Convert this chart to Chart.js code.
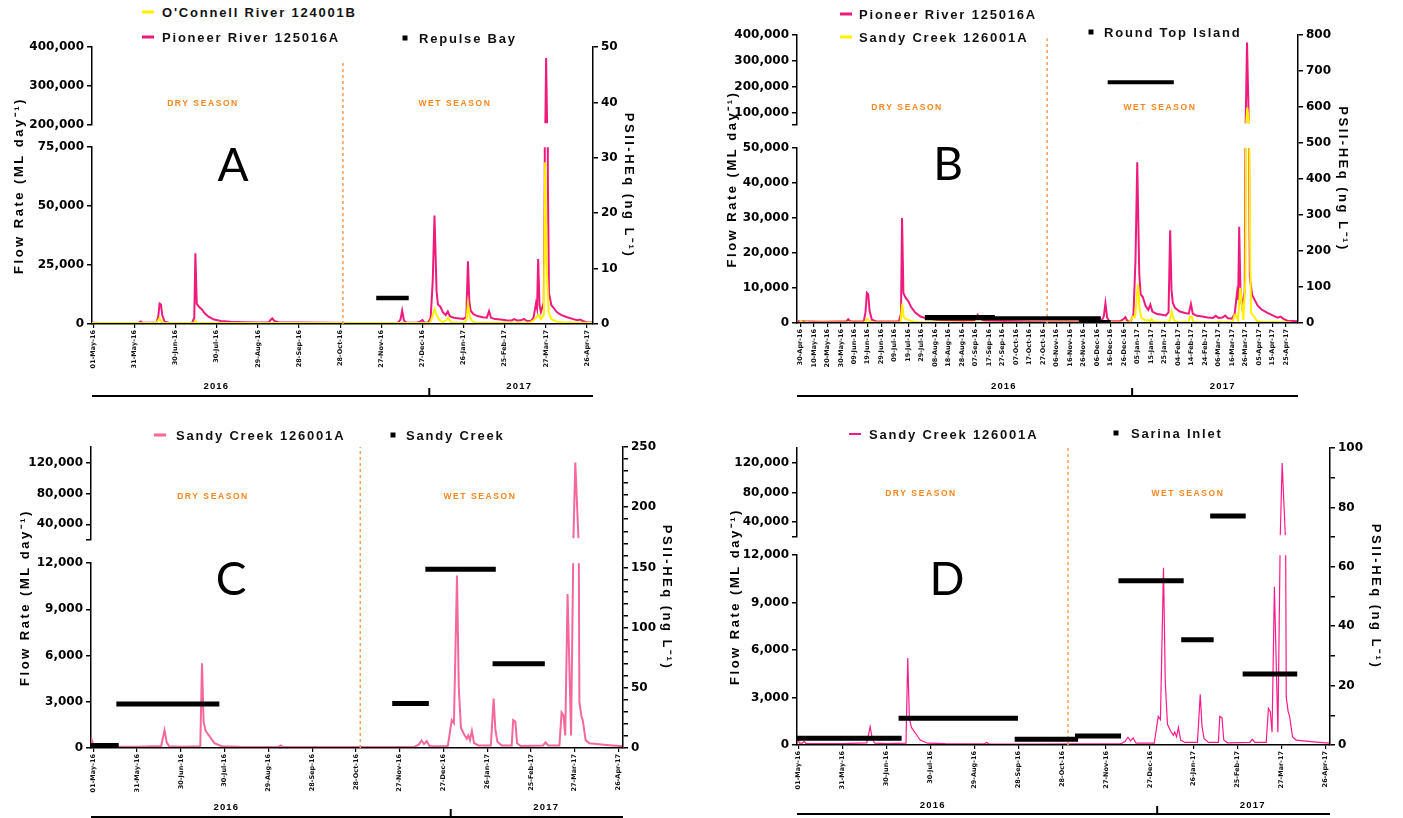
<!DOCTYPE html>
<html><head><meta charset="utf-8">
<script src="https://cdn.jsdelivr.net/npm/chart.js@4/dist/chart.umd.min.js"></script>
<style>
html,body{margin:0;padding:0;background:#fff;width:1403px;height:818px;overflow:hidden;font-family:"Liberation Sans",Arial,sans-serif}
canvas{position:absolute}
.leg{position:absolute;white-space:nowrap;font-weight:bold;font-size:13px;letter-spacing:1.8px;color:#111;transform:translateY(-50%);line-height:1}
.sw{position:absolute;width:12px;height:3px;transform:translateY(-50%)}
.sq{position:absolute;width:5px;height:5px;background:#000;transform:translate(-50%,-50%)}
.season{position:absolute;white-space:nowrap;color:#F7861F;font-weight:bold;font-size:8.5px;letter-spacing:1.6px;transform:translate(-50%,-50%);line-height:1}
.letter{position:absolute;font-family:Lato,"Open Sans",sans-serif;font-size:46px;color:#000;transform:translate(-50%,-50%);line-height:1}
</style></head><body>
<script>
// ---------- DATA (days counted from 01-May-2016) ----------
const monthTickLabels = ['01-May-16','31-May-16','30-Jun-16','30-Jul-16','29-Aug-16','28-Sep-16','28-Oct-16','27-Nov-16','27-Dec-16','26-Jan-17','25-Feb-17','27-Mar-17','26-Apr-17'];
const tenDayTickLabels = ['30-Apr-16','10-May-16','20-May-16','30-May-16','09-Jun-16','19-Jun-16','29-Jun-16','09-Jul-16','19-Jul-16','29-Jul-16','08-Aug-16','18-Aug-16','28-Aug-16','07-Sep-16','17-Sep-16','27-Sep-16','07-Oct-16','17-Oct-16','27-Oct-16','06-Nov-16','16-Nov-16','26-Nov-16','06-Dec-16','16-Dec-16','26-Dec-16','05-Jan-17','15-Jan-17','25-Jan-17','04-Feb-17','14-Feb-17','24-Feb-17','06-Mar-17','16-Mar-17','26-Mar-17','05-Apr-17','15-Apr-17','25-Apr-17'];
const yearLabels = ['2016','2017'];
const seasonLabels = ['DRY SEASON','WET SEASON'];

// Pioneer River 125016A (ML/day)
const pioneerDays = [-3,5,15,25,33,34.5,36,46,47.3,48.3,49.3,50.3,52,55,65,72,73.6,74.4,75.4,77,79,81,84,88,93,100,110,120,128,129.5,130.5,132,135,150,170,190,210,222,224,225.2,226.5,228,236,238.5,240,241.5,244,246,247.5,248.8,250.3,251.3,253,255,257,258.5,260,263,267,270,272,273.2,274.2,275.2,277,280,284,287,288.6,290,293,297,301,305,307,309,312,314,316,319,321,322.8,323.6,324.4,325.4,326.4,328.5,329.2,330.2,331.5,332.3,334,336,338,341,345,350,353,355,357,360,368];
const pioneerFlow = [450,350,300,350,400,1000,400,450,3000,8600,8200,3500,900,450,350,450,2500,30000,8500,7200,6200,4600,3000,1800,1200,900,700,600,700,1800,2300,1200,650,500,400,350,350,400,1800,5600,1500,450,450,1000,1600,500,400,2500,18000,46000,14000,8200,7300,4800,3700,5200,3200,2600,2300,2100,3000,26500,9500,5600,4200,3300,2800,2600,5400,2600,2000,1800,1500,1400,2000,1400,1500,2100,1300,1200,2500,8600,6500,27500,8000,5000,9000,60000,372000,60000,13000,8000,6500,5000,3800,2900,2000,1500,1800,1200,600,450];

// O'Connell River 124001B (ML/day)
const oconnellDays = [-1,45,47,48.3,49.5,52,73.5,74.4,75.5,78,245,247,248.8,250.5,252.5,255,257.5,258.8,260.5,263,271,272.2,273.2,274.5,276.5,280,318,321,322.8,324.5,326.5,328.6,329.5,330.6,332,334,338,345,355,364];
const oconnellFlow = [300,300,1200,2400,900,300,300,1300,500,300,300,2500,6300,3500,1500,700,1500,2500,900,400,400,2000,8500,3000,1000,400,400,1500,2500,3800,2000,4000,68600,25000,5000,2000,900,500,400,300];

// Sandy Creek 126001A (ML/day)
const sandyDays = [-1.6,0.5,2.5,3.8,5,15,30,46.5,48.8,50.3,52,60,73.3,74.5,75.6,77,80,83,88,100,127,128.5,130,160,190,220,223,225,226.7,228.6,230.5,243,245.7,247.2,249.3,250.5,252,254,256,257,258.2,259.5,261,264,272.5,274.4,275.6,277,280,286.8,287.8,289.3,290.5,293,308.3,310,311.7,319.5,321,322.3,323.5,325.1,327.5,329,330.4,332.7,333.2,334.5,335.5,337.5,340,345,350,356,363];
const sandyFlow = [650,100,100,220,80,70,70,120,1150,350,100,70,100,5500,1700,1100,700,300,100,70,60,150,60,50,60,60,200,480,250,430,100,100,1800,1600,11200,4000,1300,900,600,800,500,1100,300,150,150,3200,1200,400,150,150,1800,1700,300,120,150,350,150,150,2300,2100,800,10000,800,12500,120000,15000,3000,2100,1800,500,300,250,200,150,100];

// PSII-HEq passive sampler deployments (ng/L): start day, end day, value
const repulseStart = [206.3];
const repulseEnd   = [230];
const repulseHEq   = [4.7];
const roundTopStart = [91.3, 91.3, 205.5, 226.9];
const roundTopEnd   = [143.2, 221.8, 229.2, 275.9];
const roundTopHEq   = [17, 13, 3, 669];
const sandyCkStart = [-1.6, 15.8, 204.9, 227.6, 273.7];
const sandyCkEnd   = [17.4, 86.4, 230, 275.9, 309.5];
const sandyCkHEq   = [2, 36.5, 37, 148.5, 70];
const sarinaStart = [-1.2, 68.2, 147.6, 188.8, 218.5, 261.4, 281.2, 303.4];
const sarinaEnd   = [70.3, 149.8, 190.9, 220.3, 263.1, 283.6, 305.5, 340.7];
const sarinaHEq   = [2.3, 9.0, 1.9, 3.0, 55.3, 35.4, 77.1, 23.9];

// Left-axis tick values and labels (broken axes)
const A_upperTicks = [200000,300000,400000];
const A_upperTickLabels = ['200,000','300,000','400,000'];
const A_lowerTicks = [0,25000,50000,75000];
const A_lowerTickLabels = ['0','25,000','50,000','75,000'];
const B_upperTicks = [53000,100000,200000,300000,400000];
const B_upperTickLabels = ['','100,000','200,000','300,000','400,000'];
const B_lowerTicks = [0,10000,20000,30000,40000,50000];
const B_lowerTickLabels = ['0','10,000','20,000','30,000','40,000','50,000'];
const CD_upperTicks = [20000,40000,80000,120000];
const CD_upperTickLabels = ['','40,000','80,000','120,000'];
const CD_lowerTicks = [0,3000,6000,9000,12000];
const CD_lowerTickLabels = ['0','3,000','6,000','9,000','12,000'];

// season boundary (dotted line) day and year boundary (01-Jan-2017)
const dryWetDay = {A:182, B:182, C:183, D:184};
const yearBoundaryDay = 245;
</script>
<script>
const MONTHS={Jan:0,Feb:1,Mar:2,Apr:3,May:4,Jun:5,Jul:6,Aug:7,Sep:8,Oct:9,Nov:10,Dec:11};
const DAY0=Date.UTC(2016,4,1);
function labelToDay(s){const p=s.split('-');return (Date.UTC(2000+ +p[2],MONTHS[p[1]],+p[0])-DAY0)/86400000;}
function pts(d,v){const n=Math.min(d.length,v.length),a=[];for(let i=0;i<n;i++)a.push({x:d[i],y:v[i]});return a;}
function barPts(s,e,v){const a=[];for(let i=0;i<v.length;i++){a.push({x:s[i],y:v[i]},{x:e[i],y:v[i]},{x:e[i],y:null});}return a;}

const PINK='#EE1B7C', YELLOW='#FFF200';
const flowPioneer={label:'Pioneer River 125016A',d:pioneerDays,v:pioneerFlow};
const flowOConnell={label:"O'Connell River 124001B",d:oconnellDays,v:oconnellFlow};
const flowSandy={label:'Sandy Creek 126001A',d:sandyDays,v:sandyFlow};

const panels=[
 {id:'A',PL:0,L:92,R:593,top:47,bottom:324,xmin:-1,xmax:364.4,up:[47,125,200000,400000,A_upperTicks,A_upperTickLabels],lo:[147,324,0,75000,A_lowerTicks,A_lowerTickLabels],
  flows:[[flowOConnell,YELLOW,2],[flowPioneer,PINK,2]],bars:{label:'Repulse Bay',s:repulseStart,e:repulseEnd,v:repulseHEq,w:4.5},
  rmax:50,rstep:10,rlab:10,dotTop:47.3,ticks:monthTickLabels,titleLx:19,titleRx:629,yearLine:72,yearLabel:62,yearDays:[89.7,310.6],
  legend:[['sw',YELLOW,142,12,"O'Connell River 124001B",162],['sw',PINK,142,37,'Pioneer River 125016A',162],['sq','#000',405,38,'Repulse Bay',419]],
  seasons:[[203,103],[455,103]],letter:[233,164]},
 {id:'B',PL:700,L:797,R:1298,top:35,bottom:323,xmin:-3.5,xmax:368,up:[35,125,53000,400000,B_upperTicks,B_upperTickLabels],lo:[148,323,0,50000,B_lowerTicks,B_lowerTickLabels],
  flows:[[flowSandy,YELLOW,2],[flowPioneer,PINK,2]],bars:{label:'Round Top Island',s:roundTopStart,e:roundTopEnd,v:roundTopHEq,w:4},
  rmax:800,rstep:100,rlab:100,dotTop:791,ticks:tenDayTickLabels,titleLx:732,titleRx:1343,yearLine:73,yearLabel:63,yearDays:[149.9,312.2],
  legend:[['sw',PINK,840,14,'Pioneer River 125016A',859],['sw',YELLOW,840,37,'Sandy Creek 126001A',859],['sq','#000',1091,32,'Round Top Island',1104]],
  seasons:[[907,107],[1160,107]],letter:[948,163]},
 {id:'C',PL:0,L:91,R:623,top:447,bottom:748,xmin:-1.6,xmax:363.1,up:[447,540,20000,140000,CD_upperTicks,CD_upperTickLabels],lo:[563,748,0,12000,CD_lowerTicks,CD_lowerTickLabels],
  flows:[[flowSandy,'#F4689C',2]],bars:{label:'Sandy Creek',s:sandyCkStart,e:sandyCkEnd,v:sandyCkHEq,w:5},
  rmax:250,rstep:10,rlab:50,dotTop:250,ticks:monthTickLabels,titleLx:25,titleRx:667,yearLine:69,yearLabel:59,yearDays:[91.2,310.5],
  legend:[['sw','#F4689C',154,435,'Sandy Creek 126001A',176],['sq','#000',393,435,'Sandy Creek',406]],
  seasons:[[213,496],[480,496]],letter:[231,578]},
 {id:'D',PL:700,L:797,R:1330,top:448,bottom:745,xmin:-1.2,xmax:363.1,up:[448,537,20000,140000,CD_upperTicks,CD_upperTickLabels],lo:[555,745,0,12000,CD_lowerTicks,CD_lowerTickLabels],
  flows:[[flowSandy,'#FF1A8C',1.2]],bars:{label:'Sarina Inlet',s:sarinaStart,e:sarinaEnd,v:sarinaHEq,w:5},
  rmax:100,rstep:10,rlab:20,dotTop:100,ticks:monthTickLabels,titleLx:735,titleRx:1376,yearLine:69,yearLabel:60,yearDays:[91.6,310.3],
  legend:[['sw','#FF1A8C',849,434,'Sandy Creek 126001A',869],['sq','#000',1116,433,'Sarina Inlet',1131]],
  seasons:[[921,493],[1188,493]],letter:[947,578]}
];

Chart.defaults.color='#000';
const tickFont={family:'"DejaVu Sans", sans-serif',weight:'bold',size:12};
const titleFont={family:'"Liberation Sans", Arial, sans-serif',weight:'bold',size:13};

function mkCanvas(l,t,w,h){const c=document.createElement('canvas');c.width=w;c.height=h;c.style.left=l+'px';c.style.top=t+'px';c.style.width=w+'px';c.style.height=h+'px';document.body.appendChild(c);return c;}

const spacingPlugin={id:'spacing',beforeDraw(chart){Object.values(chart.scales).forEach(s=>{if(s._sp)return;const o=s.drawTitle;s.drawTitle=function(){const c=this.ctx;c.save();try{c.letterSpacing='2.5px';}catch(e){}o.apply(this,arguments);c.restore();};s._sp=true;});}};

function segmentChart(P,seg,isUpper){
  const WL=72,pad=10,[T,B,mn,mx,tk,lb]=seg;
  const c=mkCanvas(P.L-WL,T-pad,(P.R-P.L)+WL,(B-T)+2*pad);
  const clip=isUpper?{left:0,right:0,top:0,bottom:-1.5}:0;
  new Chart(c,{type:'line',
    data:{datasets:P.flows.map(([f,col,w])=>({label:f.label,data:pts(f.d,f.v),borderColor:col,backgroundColor:col,borderWidth:w,pointRadius:0,tension:0,fill:false,clip:clip}))},
    options:{responsive:false,animation:false,events:[],layout:{padding:{top:pad,bottom:pad,left:0,right:0}},
      plugins:{legend:{display:false},tooltip:{enabled:false}},
      scales:{x:{type:'linear',display:false,min:P.xmin,max:P.xmax},
        y:{type:'linear',position:'left',min:mn,max:mx,afterFit:s=>{s.width=WL;},
          afterBuildTicks:s=>{s.ticks=tk.map(v=>({value:v}));},
          ticks:{autoSkip:false,callback:(v,i)=>lb[i],font:tickFont,color:'#000',padding:3},
          grid:{drawOnChartArea:false,color:'#000',tickColor:'#000',lineWidth:1.5,tickLength:5},
          border:{display:true,color:'#000',width:1.5}}}}});
}

function overlayChart(P){
  const WR=60,XH=50,padT=12,padB=100;
  const c=mkCanvas(P.PL,P.top-padT,P.R+WR-P.PL,padT+(P.bottom-P.top)+padB);
  const tickDays=P.ticks.map(labelToDay);
  const yearPlugin={id:'years'+P.id,afterDraw(chart){
    const {ctx,chartArea:a,scales:{x}}=chart;const yl=a.bottom+P.yearLine;
    ctx.save();ctx.strokeStyle='#000';ctx.lineWidth=2;ctx.beginPath();ctx.moveTo(a.left,yl);ctx.lineTo(a.right,yl);
    const xt=x.getPixelForValue(yearBoundaryDay);ctx.moveTo(xt,yl);ctx.lineTo(xt,yl-8);ctx.stroke();
    ctx.font='bold 9.5px "Liberation Sans", Arial, sans-serif';try{ctx.letterSpacing='1.2px';}catch(e){}
    ctx.textAlign='center';ctx.textBaseline='middle';ctx.fillStyle='#000';
    yearLabels.forEach((t,i)=>ctx.fillText(t,x.getPixelForValue(P.yearDays[i]),a.bottom+P.yearLabel));
    ctx.restore();}};
  new Chart(c,{type:'line',
    data:{datasets:[
      {label:P.bars.label,data:barPts(P.bars.s,P.bars.e,P.bars.v),yAxisID:'yR',borderColor:'#000',backgroundColor:'#000',borderWidth:P.bars.w,pointRadius:0,spanGaps:false,borderCapStyle:'butt',tension:0},
      {label:'Season boundary',data:[{x:dryWetDay[P.id],y:0},{x:dryWetDay[P.id],y:P.dotTop}],yAxisID:'yR',borderColor:'#F9A055',borderWidth:1.5,borderDash:[3,3],pointRadius:0}
    ]},
    options:{responsive:false,animation:false,events:[],layout:{padding:{top:padT,bottom:padB-XH,left:0,right:0}},
      plugins:{legend:{display:false},tooltip:{enabled:false}},
      scales:{
        x:{type:'linear',position:'bottom',min:P.xmin,max:P.xmax,afterFit:s=>{s.height=XH;},
          afterBuildTicks:s=>{s.ticks=tickDays.map(v=>({value:v}));},
          ticks:{autoSkip:false,maxRotation:90,minRotation:90,callback:(v,i)=>P.ticks[i],font:{family:'"DejaVu Sans", sans-serif',weight:'bold',size:6.5},color:'#111',padding:2},
          grid:{drawOnChartArea:false,color:'#000',tickColor:'#000',lineWidth:1.2,tickLength:4},
          border:{display:true,color:'#000',width:1.5}},
        yL:{type:'linear',position:'left',min:0,max:1,afterFit:s=>{s.width=P.L-P.PL;},
          ticks:{display:false},grid:{display:false},border:{display:false},
          title:{display:true,text:'Flow Rate (ML day\u207B\u00B9)',font:titleFont,color:'#000',padding:{top:P.titleLx-P.PL-7.8,bottom:0}}},
        yR:{type:'linear',position:'right',min:0,max:P.rmax,afterFit:s=>{s.width=WR;},
          ticks:{stepSize:P.rstep,autoSkip:false,callback:v=>(Math.round(v)%P.rlab===0?String(Math.round(v)):''),font:tickFont,color:'#000',padding:3},
          grid:{drawOnChartArea:false,color:'#000',tickColor:'#000',lineWidth:1.5,tickLength:5},
          border:{display:true,color:'#000',width:1.5},
          title:{display:true,text:'PSII-HEq (ng L\u207B\u00B9)',font:titleFont,color:'#000',padding:{top:P.R+WR-P.titleRx-7.8,bottom:0}}}
      }},
    plugins:[spacingPlugin,yearPlugin]});
}

function addDiv(cls,text,x,y,style){const d=document.createElement('div');d.className=cls;if(text)d.textContent=text;d.style.left=x+'px';d.style.top=y+'px';if(style)Object.assign(d.style,style);document.body.appendChild(d);return d;}

panels.forEach(P=>{
  segmentChart(P,P.up,true);
  segmentChart(P,P.lo,false);
  overlayChart(P);
  P.legend.forEach(([k,col,x,y,txt,tx])=>{
    if(k==='sw')addDiv('sw','',x,y,{background:col,height:(P.id==='D'?'2px':'3px')});else addDiv('sq','',x,y);
    addDiv('leg',txt,tx,y);
  });
  P.seasons.forEach(([x,y],i)=>addDiv('season',seasonLabels[i],x,y));
  addDiv('letter',P.id,P.letter[0],P.letter[1]);
});
</script>
</body></html>
